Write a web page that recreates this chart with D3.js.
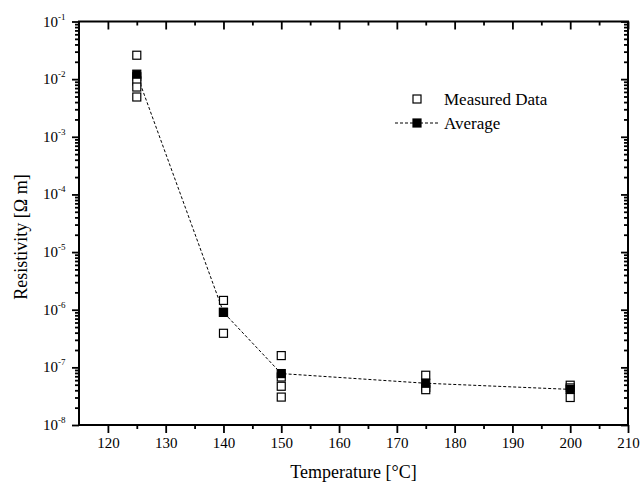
<!DOCTYPE html>
<html>
<head>
<meta charset="utf-8">
<script src="https://cdn.jsdelivr.net/npm/d3@7"></script>
<style>
  body { margin: 0; background: #fff; }
  text { font-family: "Liberation Serif", "Times New Roman", serif; fill: #000; }
</style>
</head>
<body>
<svg id="chart" width="641" height="485"></svg>
<script>
// measured resistivity per temperature
const temps = [125, 140, 150, 175, 200];
const measured = [
  [2.6e-2, 1.1e-2, 9.3e-3, 7.3e-3, 4.9e-3],
  [1.45e-6, 9.0e-7, 3.9e-7],
  [1.6e-7, 6.8e-8, 4.7e-8, 3.05e-8],
  [7.3e-8, 4.5e-8, 4.1e-8],
  [4.9e-8, 4.4e-8, 3.0e-8]
];
const average = [1.22e-2, 9.0e-7, 7.8e-8, 5.3e-8, 4.15e-8];
const xTicks = [120, 130, 140, 150, 160, 170, 180, 190, 200, 210];
const xMinor = [125, 135, 145, 155, 165, 175, 185, 195, 205];
const yExps = [-8, -7, -6, -5, -4, -3, -2, -1];

const svg = d3.select('#chart');
const pLeft = 79, pRight = 628, pTop = 21.5, pBottom = 425;

const x = d3.scaleLinear().domain([115, 210]).range([pLeft, pRight]);
const y = d3.scaleLog().domain([1e-8, 1e-1]).range([pBottom, pTop]);

const yMajor = yExps.map(e => Math.pow(10, e));
const yMinor = [];
yExps.slice(0, -1).forEach(e => {
  for (let m = 2; m <= 9; m++) yMinor.push(m * Math.pow(10, e));
});

const noText = g => g.selectAll('text').remove();
const styleAxis = g => {
  g.select('.domain').remove();
  g.selectAll('line').attr('stroke', '#000').attr('stroke-width', 1.8);
};

// bottom
svg.append('g').attr('transform', `translate(0,${pBottom})`)
  .call(d3.axisBottom(x).tickValues(xTicks).tickSize(8).tickPadding(4).tickFormat(d3.format('d')))
  .call(styleAxis)
  .call(g => g.selectAll('text').attr('font-size', 15).attr('font-family', 'Liberation Serif'));
svg.append('g').attr('transform', `translate(0,${pBottom})`)
  .call(d3.axisBottom(x).tickValues(xMinor).tickSize(4)).call(styleAxis).call(noText);
// top (mirror, inward)
svg.append('g').attr('transform', `translate(0,${pTop})`)
  .call(d3.axisBottom(x).tickValues(xTicks).tickSize(8)).call(styleAxis).call(noText);
svg.append('g').attr('transform', `translate(0,${pTop})`)
  .call(d3.axisBottom(x).tickValues(xMinor).tickSize(4)).call(styleAxis).call(noText);

// left
svg.append('g').attr('transform', `translate(${pLeft},0)`)
  .call(d3.axisLeft(y).tickValues(yMajor).tickSize(7)).call(styleAxis).call(noText);
svg.append('g').attr('transform', `translate(${pLeft},0)`)
  .call(d3.axisLeft(y).tickValues(yMinor).tickSize(4)).call(styleAxis).call(noText);
// right (mirror, inward)
svg.append('g').attr('transform', `translate(${pRight},0)`)
  .call(d3.axisLeft(y).tickValues(yMajor).tickSize(7)).call(styleAxis).call(noText);
svg.append('g').attr('transform', `translate(${pRight},0)`)
  .call(d3.axisLeft(y).tickValues(yMinor).tickSize(4)).call(styleAxis).call(noText);

// y tick labels 10^n
yExps.forEach(e => {
  const t = svg.append('text')
    .attr('x', 43).attr('y', y(Math.pow(10, e)) + 5)
    .attr('font-size', 15);
  t.append('tspan').text('10');
  t.append('tspan').attr('dy', -7).attr('font-size', 9).text('-' + Math.abs(e));
});

// frame
svg.append('rect')
  .attr('x', pLeft).attr('y', pTop)
  .attr('width', pRight - pLeft).attr('height', pBottom - pTop)
  .attr('fill', 'none').attr('stroke', '#000').attr('stroke-width', 2);

// average line
const line = d3.line().x((d, i) => x(temps[i])).y(d => y(d));
svg.append('path').datum(average)
  .attr('d', line).attr('fill', 'none')
  .attr('stroke', '#000').attr('stroke-width', 1).attr('stroke-dasharray', '3,2');

// measured squares
const sq = 8;
temps.forEach((t, i) => {
  svg.selectAll(null).data(measured[i]).enter().append('rect')
    .attr('x', x(t) - sq / 2).attr('y', d => y(d) - sq / 2)
    .attr('width', sq).attr('height', sq)
    .attr('fill', '#fff').attr('stroke', '#000').attr('stroke-width', 1.2);
});
// averages
svg.selectAll(null).data(average).enter().append('rect')
  .attr('x', (d, i) => x(temps[i]) - sq / 2).attr('y', d => y(d) - sq / 2)
  .attr('width', sq).attr('height', sq)
  .attr('fill', '#000').attr('stroke', '#000').attr('stroke-width', 1.2);

// legend
const lg = svg.append('g');
lg.append('rect').attr('x', 413).attr('y', 95).attr('width', 8).attr('height', 8)
  .attr('fill', '#fff').attr('stroke', '#000').attr('stroke-width', 1.2);
lg.append('text').attr('x', 444).attr('y', 105).attr('font-size', 17).text('Measured Data');
lg.append('line').attr('x1', 395).attr('x2', 438).attr('y1', 123).attr('y2', 123)
  .attr('stroke', '#000').attr('stroke-width', 1).attr('stroke-dasharray', '3,2');
lg.append('rect').attr('x', 413).attr('y', 119).attr('width', 8).attr('height', 8)
  .attr('fill', '#000').attr('stroke', '#000').attr('stroke-width', 1.2);
lg.append('text').attr('x', 444).attr('y', 129).attr('font-size', 17).text('Average');

// axis titles
svg.append('text').attr('x', (pLeft + pRight) / 2).attr('y', 478)
  .attr('text-anchor', 'middle').attr('font-size', 18).text('Temperature [\u00B0C]');
svg.append('text').attr('transform', 'translate(27,237) rotate(-90)')
  .attr('text-anchor', 'middle').attr('font-size', 18).text('Resistivity [\u03A9 m]');
</script>
</body>
</html>
